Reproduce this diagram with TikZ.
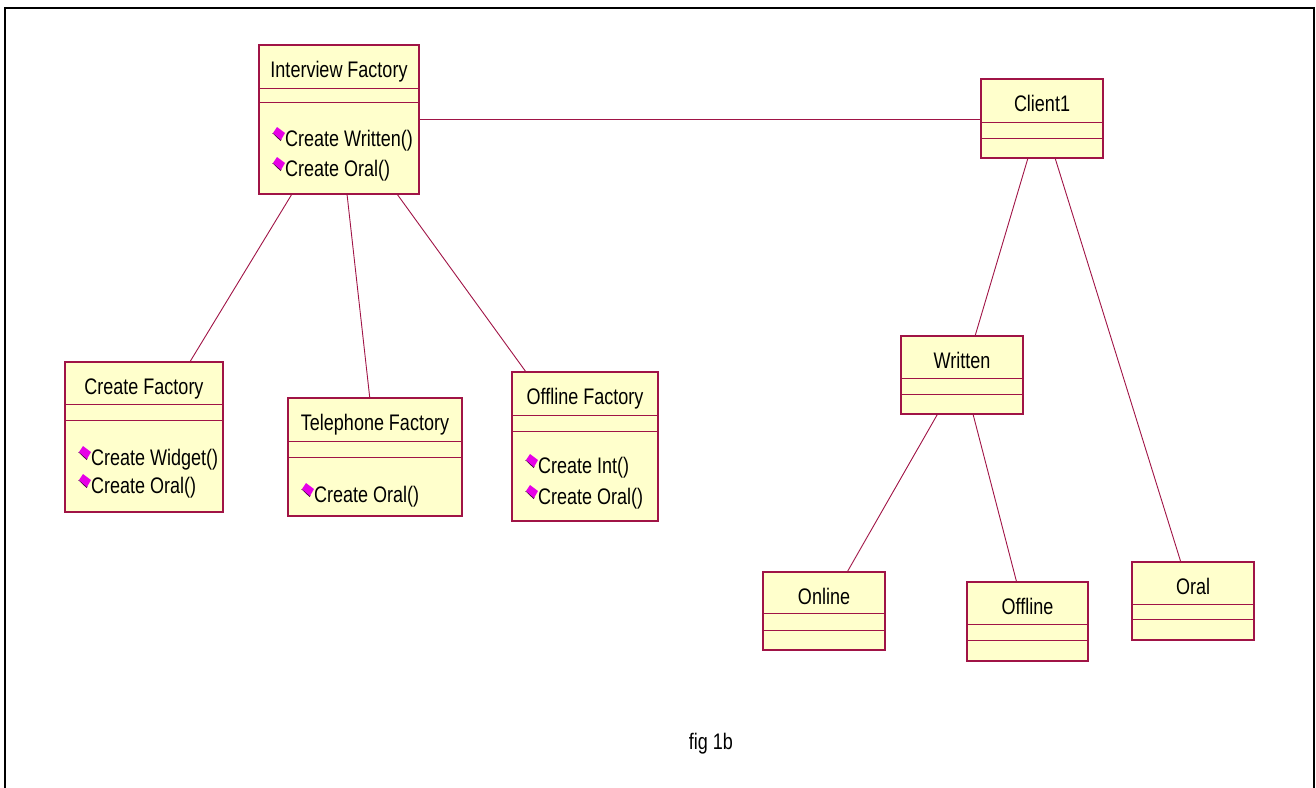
\documentclass[tikz,border=0pt]{standalone}
\usepackage{fontspec}
\setmainfont{Liberation Sans}[FakeStretch=0.8]
\usetikzlibrary{calc}

\definecolor{umlline}{RGB}{160,20,70}
\definecolor{umlfill}{RGB}{255,255,204}
\definecolor{opmag}{RGB}{230,0,230}
\definecolor{opshade}{RGB}{70,0,70}

% class box: name, x, y, width, height, first divider, second divider, title
\newcommand\umlbox[8]{%
  \node[cls, minimum width=#4pt, minimum height=#5pt] (#1) at (#2,#3) {};
  \draw[divider] ($(#1.north west)+(0,#6)$) -- ($(#1.north east)+(0,#6)$);
  \draw[divider] ($(#1.north west)+(0,#7)$) -- ($(#1.north east)+(0,#7)$);
  \node[lbl] (#1-title) at ($(#1.north)+(0,32)$) {#8};
}
% operation line: box, node name, baseline offset, text
\newcommand\umlop[4]{%
  \pic at ($(#1.north west)+(14,#3-19)$) {opicon};
  \node[op] (#2) at ($(#1.north west)+(26,#3)$) {#4};
}

\begin{document}
\begin{tikzpicture}[x=1pt,y=-1pt,
  cls/.style={draw=umlline, fill=umlfill, line width=1.2pt, rectangle,
              inner sep=0pt, outer sep=0pt, anchor=north west},
  divider/.style={draw=umlline, line width=1pt},
  assoc/.style={draw=umlline, line width=0.9pt},
  lbl/.style={font=\fontsize{22.5}{26}\selectfont, inner sep=0pt, anchor=base},
  op/.style={font=\fontsize{22.5}{26}\selectfont, inner sep=0pt, anchor=base west},
  opicon/.pic={
    \fill[opshade] (-0.8,6) -- (7.6,14) -- (8.6,12.6) -- (0,6) -- cycle;
    \fill[opmag] (4,0) -- (12,6) -- (8,13) -- (0,6) -- cycle;
  }]
\useasboundingbox (0,0) rectangle (1316,787);

% frame
\draw[black, line width=2pt] (5,800) -- (5,8) -- (1314,8) -- (1314,800);

% classes
\umlbox{ifac}{259}{45}{160}{149}{43}{57}{Interview Factory}
\umlop{ifac}{ifac-op1}{101}{Create Written()}
\umlop{ifac}{ifac-op2}{131}{Create Oral()}

\umlbox{cfac}{65}{362}{158}{150}{42}{58}{Create Factory}
\umlop{cfac}{cfac-op1}{103}{Create Widget()}
\umlop{cfac}{cfac-op2}{131}{Create Oral()}

\umlbox{tfac}{288}{398}{174}{118}{43}{59}{Telephone Factory}
\umlop{tfac}{tfac-op1}{104}{Create Oral()}

\umlbox{ofac}{512}{372}{146}{149}{43}{59}{Offline Factory}
\umlop{ofac}{ofac-op1}{101}{Create Int()}
\umlop{ofac}{ofac-op2}{132}{Create Oral()}

\umlbox{client}{981}{79}{122}{79}{43}{59}{Client1}
\umlbox{written}{901}{336}{122}{78}{42}{58}{Written}
\umlbox{online}{763}{572}{122}{78}{41}{58}{Online}
\umlbox{offline}{967}{582}{121}{79}{42}{58}{Offline}
\umlbox{oral}{1132}{562}{122}{78}{42}{57}{Oral}

% associations
\draw[assoc] (ifac.east) -- (ifac.east -| client.west);
\draw[assoc] ($(ifac.south west)!0.206!(ifac.south east)$) -- ($(cfac.north west)!0.79!(cfac.north east)$);
\draw[assoc] ($(ifac.south west)!0.55!(ifac.south east)$) -- ($(tfac.north west)!0.47!(tfac.north east)$);
\draw[assoc] ($(ifac.south west)!0.8625!(ifac.south east)$) -- ($(ofac.north west)!0.096!(ofac.north east)$);
\draw[assoc] ($(client.south west)!0.385!(client.south east)$) -- ($(written.north west)!0.607!(written.north east)$);
\draw[assoc] ($(client.south west)!0.607!(client.south east)$) -- ($(oral.north west)!0.40!(oral.north east)$);
\draw[assoc] ($(written.south west)!0.30!(written.south east)$) -- ($(online.north west)!0.69!(online.north east)$);
\draw[assoc] ($(written.south west)!0.59!(written.south east)$) -- ($(offline.north west)!0.41!(offline.north east)$);

% caption
\node[lbl] (caption) at (711,749) {fig 1b};
\end{tikzpicture}
\end{document}
